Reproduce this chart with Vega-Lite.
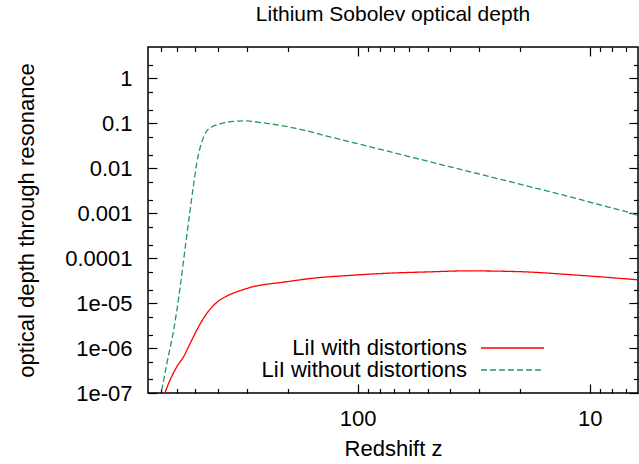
{
  "$schema": "https://vega.github.io/schema/vega-lite/v6.json",
  "width": 490,
  "height": 346,
  "autosize": {"type": "none"},
  "padding": {"left": 148, "top": 47, "right": 1, "bottom": 71},
  "background": "white",
  "title": {
    "text": "Lithium Sobolev optical depth",
    "fontSize": 21,
    "fontWeight": "normal",
    "font": "Liberation Sans",
    "color": "black",
    "anchor": "middle",
    "baseline": "alphabetic",
    "offset": 4
  },
  "config": {
    "view": {"stroke": "black", "strokeWidth": 1.5},
    "font": "Liberation Sans"
  },
  "data": {
    "values": [
      {"z": 710, "tau": 7.1e-8, "series": "LiI without distortions"},
      {"z": 663, "tau": 4.64e-7, "series": "LiI without distortions"},
      {"z": 620, "tau": 2.55e-6, "series": "LiI without distortions"},
      {"z": 581, "tau": 2.34e-5, "series": "LiI without distortions"},
      {"z": 552.5, "tau": 1.81e-4, "series": "LiI without distortions"},
      {"z": 529, "tau": 1.0e-3, "series": "LiI without distortions"},
      {"z": 508, "tau": 4.64e-3, "series": "LiI without distortions"},
      {"z": 492, "tau": 0.0140, "series": "LiI without distortions"},
      {"z": 476, "tau": 0.0302, "series": "LiI without distortions"},
      {"z": 453, "tau": 0.060, "series": "LiI without distortions"},
      {"z": 424, "tau": 0.084, "series": "LiI without distortions"},
      {"z": 403, "tau": 0.093, "series": "LiI without distortions"},
      {"z": 377, "tau": 0.103, "series": "LiI without distortions"},
      {"z": 330, "tau": 0.112, "series": "LiI without distortions"},
      {"z": 314, "tau": 0.114, "series": "LiI without distortions"},
      {"z": 299, "tau": 0.113, "series": "LiI without distortions"},
      {"z": 257, "tau": 0.103, "series": "LiI without distortions"},
      {"z": 184.5, "tau": 0.0774, "series": "LiI without distortions"},
      {"z": 132.5, "tau": 0.0504, "series": "LiI without distortions"},
      {"z": 95.1, "tau": 0.033, "series": "LiI without distortions"},
      {"z": 68.3, "tau": 0.0216, "series": "LiI without distortions"},
      {"z": 49.0, "tau": 0.0140, "series": "LiI without distortions"},
      {"z": 35.2, "tau": 0.00917, "series": "LiI without distortions"},
      {"z": 25.3, "tau": 0.0060, "series": "LiI without distortions"},
      {"z": 18.15, "tau": 0.0039, "series": "LiI without distortions"},
      {"z": 13.03, "tau": 0.00255, "series": "LiI without distortions"},
      {"z": 9.36, "tau": 0.00161, "series": "LiI without distortions"},
      {"z": 6.5, "tau": 0.000965, "series": "LiI without distortions"},
      {"z": 6.2, "tau": 0.00089, "series": "LiI without distortions"},
      {"z": 694, "tau": 7.1e-8, "series": "LiI with distortions"},
      {"z": 641.5, "tau": 1.98e-7, "series": "LiI with distortions"},
      {"z": 600, "tau": 3.9e-7, "series": "LiI with distortions"},
      {"z": 561.5, "tau": 6.5e-7, "series": "LiI with distortions"},
      {"z": 526, "tau": 1.29e-6, "series": "LiI with distortions"},
      {"z": 483.6, "tau": 3.02e-6, "series": "LiI with distortions"},
      {"z": 445.5, "tau": 6.0e-6, "series": "LiI with distortions"},
      {"z": 403.3, "tau": 1.05e-5, "series": "LiI with distortions"},
      {"z": 365, "tau": 1.45e-5, "series": "LiI with distortions"},
      {"z": 320, "tau": 1.9e-5, "series": "LiI with distortions"},
      {"z": 280, "tau": 2.34e-5, "series": "LiI with distortions"},
      {"z": 245.3, "tau": 2.64e-5, "series": "LiI with distortions"},
      {"z": 214.9, "tau": 2.87e-5, "series": "LiI with distortions"},
      {"z": 154.3, "tau": 3.6e-5, "series": "LiI with distortions"},
      {"z": 110.8, "tau": 4.1e-5, "series": "LiI with distortions"},
      {"z": 73, "tau": 4.64e-5, "series": "LiI with distortions"},
      {"z": 49, "tau": 4.96e-5, "series": "LiI with distortions"},
      {"z": 34, "tau": 5.22e-5, "series": "LiI with distortions"},
      {"z": 20, "tau": 5.01e-5, "series": "LiI with distortions"},
      {"z": 11.8, "tau": 4.25e-5, "series": "LiI with distortions"},
      {"z": 6.2, "tau": 3.3e-5, "series": "LiI with distortions"}
    ]
  },
  "resolve": {"axis": {"x": "independent", "y": "independent"}},
  "layer": [
    {
      "mark": {"type": "line", "clip": true, "strokeWidth": 1.3, "interpolate": "monotone"},
      "encoding": {
        "x": {
          "field": "z",
          "type": "quantitative",
          "scale": {"type": "log", "domain": [6.2, 800], "reverse": true, "nice": false},
          "axis": {
            "orient": "bottom",
            "title": "Redshift z",
            "values": [7, 8, 9, 10, 20, 30, 40, 50, 60, 70, 80, 90, 100, 200, 300, 400, 500, 600, 700],
            "labelExpr": "abs(log(datum.value)/LN10 - round(log(datum.value)/LN10)) < 0.001 ? format(datum.value, 'd') : ''",
            "tickSize": {"condition": {"test": "abs(log(datum.value)/LN10 - round(log(datum.value)/LN10)) < 0.001", "value": -9}, "value": -4.5},
            "tickColor": "black",
            "tickWidth": 1.2,
            "domain": false,
            "grid": false,
            "labelFontSize": 22,
            "labelColor": "black",
            "labelFont": "Liberation Sans",
            "labelBaseline": "top",
            "labelPadding": 24,
            "labelFlush": false,
            "labelOverlap": false,
            "titleFontSize": 22,
            "titleFontWeight": "normal",
            "titleColor": "black",
            "titleFont": "Liberation Sans",
            "titlePadding": 5
          }
        },
        "y": {
          "field": "tau",
          "type": "quantitative",
          "scale": {"type": "log", "domain": [1e-7, 5], "nice": false},
          "axis": {
            "orient": "left",
            "title": "optical depth through resonance",
            "values": [1e-7, 2e-7, 5e-7, 1e-6, 2e-6, 5e-6, 1e-5, 2e-5, 5e-5, 1e-4, 2e-4, 5e-4, 0.001, 0.002, 0.005, 0.01, 0.02, 0.05, 0.1, 0.2, 0.5, 1, 2],
            "labelExpr": "abs(log(datum.value)/LN10 - round(log(datum.value)/LN10)) < 0.001 ? (datum.value < 5e-5 ? '1e-0' + round(-log(datum.value)/LN10) : format(datum.value, '~g')) : ''",
            "tickSize": {"condition": {"test": "abs(log(datum.value)/LN10 - round(log(datum.value)/LN10)) < 0.001", "value": -9}, "value": -4.5},
            "tickColor": "black",
            "tickWidth": 1.2,
            "domain": false,
            "grid": false,
            "labelFontSize": 22,
            "labelColor": "black",
            "labelFont": "Liberation Sans",
            "labelPadding": 25,
            "labelFlush": false,
            "labelOverlap": false,
            "titleFontSize": 22,
            "titleFontWeight": "normal",
            "titleColor": "black",
            "titleFont": "Liberation Sans",
            "titlePadding": 26
          }
        },
        "color": {
          "field": "series",
          "type": "nominal",
          "scale": {"domain": ["LiI with distortions", "LiI without distortions"], "range": ["#ff0000", "#1f9a55"]},
          "legend": {
            "title": null,
            "orient": "none",
            "legendX": 332,
            "legendY": 291,
            "symbolType": "stroke",
            "symbolSize": 3969,
            "symbolStrokeWidth": 1.5,
            "clipHeight": 20,
            "rowPadding": 0,
            "padding": 0,
            "labelAlign": "right",
            "labelOffset": -78,
            "labelFontSize": 22,
            "labelColor": "black",
            "labelFont": "Liberation Sans",
            "labelLimit": 400,
            "encode": {"entries": {"update": {"width": {"value": 80}}}}
          }
        },
        "strokeDash": {
          "field": "series",
          "type": "nominal",
          "scale": {"domain": ["LiI with distortions", "LiI without distortions"], "range": [[1, 0], [6, 3]]},
          "legend": {
            "title": null,
            "orient": "none",
            "legendX": 332,
            "legendY": 291,
            "symbolType": "stroke",
            "symbolSize": 3969,
            "symbolStrokeWidth": 1.5,
            "clipHeight": 20,
            "rowPadding": 0,
            "padding": 0,
            "labelAlign": "right",
            "labelOffset": -78,
            "labelFontSize": 22,
            "labelColor": "black",
            "labelFont": "Liberation Sans",
            "labelLimit": 400,
            "encode": {"entries": {"update": {"width": {"value": 80}}}}
          }
        }
      }
    },
    {
      "mark": {"type": "line", "opacity": 0},
      "encoding": {
        "x": {
          "field": "z",
          "type": "quantitative",
          "axis": {
            "orient": "top",
            "title": null,
            "labels": false,
            "values": [7, 8, 9, 10, 20, 30, 40, 50, 60, 70, 80, 90, 100, 200, 300, 400, 500, 600, 700],
            "tickSize": {"condition": {"test": "abs(log(datum.value)/LN10 - round(log(datum.value)/LN10)) < 0.001", "value": -9}, "value": -4.5},
            "tickColor": "black",
            "tickWidth": 1.2,
            "domain": false,
            "grid": false
          }
        },
        "y": {
          "field": "tau",
          "type": "quantitative",
          "axis": {
            "orient": "right",
            "title": null,
            "labels": false,
            "values": [1e-7, 2e-7, 5e-7, 1e-6, 2e-6, 5e-6, 1e-5, 2e-5, 5e-5, 1e-4, 2e-4, 5e-4, 0.001, 0.002, 0.005, 0.01, 0.02, 0.05, 0.1, 0.2, 0.5, 1, 2],
            "tickSize": {"condition": {"test": "abs(log(datum.value)/LN10 - round(log(datum.value)/LN10)) < 0.001", "value": -9}, "value": -4.5},
            "tickColor": "black",
            "tickWidth": 1.2,
            "domain": false,
            "grid": false
          }
        }
      }
    }
  ]
}
